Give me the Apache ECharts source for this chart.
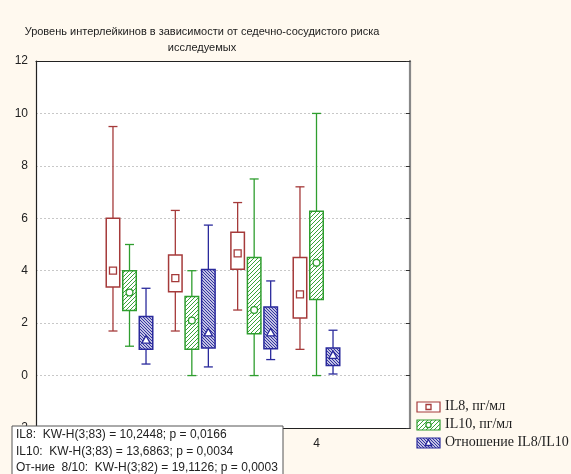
<!DOCTYPE html>
<html><head><meta charset="utf-8">
<script src="https://cdn.jsdelivr.net/npm/echarts@6/dist/echarts.min.js"></script>
<style>html,body{margin:0;padding:0;background:#fff9ef;}#c{width:571px;height:474px;}</style>
</head><body><div id="c"></div>
<script>
// ---- data ----
var titleLines = ['Уровень интерлейкинов в зависимости от седечно-сосудистого риска', 'исследуемых'];
var xCategories = ['0', '1', '2', '3', '4', '5'];
var xShownLabels = ['1', '2', '3', '4'];
var groupIndex = [1, 2, 3, 4];
// each row: [min, q1, median, q3, max]
var il8 = [[1.7, 3.38, 4.0, 6.0, 9.5], [1.7, 3.2, 3.72, 4.6, 6.3], [2.5, 4.06, 4.66, 5.47, 6.6], [1.0, 2.2, 3.1, 4.5, 7.2]];
var il10 = [[1.12, 2.48, 3.17, 4.0, 5.0], [0.0, 1.0, 2.1, 3.02, 4.0], [0.0, 1.6, 2.5, 4.5, 7.5], [0.0, 2.9, 4.3, 6.27, 10.0]];
var ratio = [[0.44, 1.0, 1.35, 2.25, 3.33], [0.33, 1.05, 1.63, 4.05, 5.74], [0.61, 1.02, 1.63, 2.62, 3.61], [0.06, 0.38, 0.77, 1.05, 1.73]];
var seriesNames = ['IL8, пг/мл', 'IL10, пг/мл', 'Отношение IL8/IL10'];
var statLines = ['IL8:  KW-H(3;83) = 10,2448; p = 0,0166', 'IL10:  KW-H(3;83) = 13,6863; p = 0,0034', 'От-ние  8/10:  KW-H(3;82) = 19,1126; p = 0,0003'];

// ---- styling ----
var colRed = '#a53a3a', colGreen = '#2f9e2f', colBlue = '#2a2a9c';
function hatch(color, size, dir, lw) {
  var c = document.createElement('canvas'); c.width = size; c.height = size;
  var g = c.getContext('2d'); g.fillStyle = '#fff'; g.fillRect(0, 0, size, size);
  g.strokeStyle = color; g.lineWidth = lw;
  g.beginPath();
  if (dir > 0) { g.moveTo(-1, size + 1); g.lineTo(size + 1, -1); g.moveTo(-1, 1); g.lineTo(1, -1); g.moveTo(size - 1, size + 1); g.lineTo(size + 1, size - 1); }
  else { g.moveTo(-1, -1); g.lineTo(size + 1, size + 1); g.moveTo(size - 1, -1); g.lineTo(size + 1, 1); g.moveTo(-1, size - 1); g.lineTo(1, size + 1); }
  g.stroke();
  return { image: c, repeat: 'repeat' };
}
var patGreen = hatch('#3aa33a', 4, 1, 1);
var patBlue = hatch('#2a2a9c', 3, -1, 1.1);

var cfg = [
  { data: il8, color: colRed, fill: '#ffffff', marker: 'square', off: -0.265 },
  { data: il10, color: colGreen, fill: patGreen, marker: 'circle', off: 0 },
  { data: ratio, color: colBlue, fill: patBlue, marker: 'triangle', off: 0.265 }
];

function markerShape(type, cx, cy, color) {
  if (type === 'square') return { type: 'rect', shape: { x: cx - 3.5, y: cy - 3.5, width: 7, height: 7 }, style: { fill: '#fff', stroke: color, lineWidth: 1.3 } };
  if (type === 'circle') return { type: 'circle', shape: { cx: cx, cy: cy, r: 3.4 }, style: { fill: '#fff', stroke: color, lineWidth: 1.3 } };
  return { type: 'polygon', shape: { points: [[cx, cy - 4.5], [cx + 4.2, cy + 3], [cx - 4.2, cy + 3]] }, style: { fill: '#fff', stroke: color, lineWidth: 1.3 } };
}

function makeSeries(k) {
  var c = cfg[k];
  return {
    type: 'custom', name: seriesNames[k],
    data: c.data.map(function (r, i) { return [groupIndex[i]].concat(r); }),
    encode: { x: 0, y: [1, 2, 3, 4, 5] },
    renderItem: function (params, api) {
      var x = api.value(0);
      var band = api.size([1, 0])[0];
      var px = api.coord([x, 0])[0] + c.off * band;
      var yMin = api.coord([x, api.value(1)])[1], yQ1 = api.coord([x, api.value(2)])[1],
          yMed = api.coord([x, api.value(3)])[1], yQ3 = api.coord([x, api.value(4)])[1],
          yMax = api.coord([x, api.value(5)])[1];
      var bw = 13.5, cw = 9;
      var ls = { stroke: c.color, lineWidth: 1.3 };
      return { type: 'group', children: [
        { type: 'line', shape: { x1: px, y1: yMax, x2: px, y2: yQ3 }, style: ls },
        { type: 'line', shape: { x1: px, y1: yQ1, x2: px, y2: yMin }, style: ls },
        { type: 'line', shape: { x1: px - cw / 2, y1: yMax, x2: px + cw / 2, y2: yMax }, style: ls },
        { type: 'line', shape: { x1: px - cw / 2, y1: yMin, x2: px + cw / 2, y2: yMin }, style: ls },
        { type: 'rect', shape: { x: px - bw / 2, y: yQ3, width: bw, height: yQ1 - yQ3 }, style: { fill: c.fill, stroke: c.color, lineWidth: 1.5 } },
        markerShape(c.marker, px, yMed, c.color)
      ] };
    }
  };
}

// legend + stats graphics
var legendItems = [];
for (var k = 0; k < 3; k++) {
  var ly = 402 + k * 18;
  legendItems.push({ type: 'rect', z: 100, shape: { x: 417, y: ly, width: 23, height: 10 }, style: { fill: cfg[k].fill, stroke: cfg[k].color, lineWidth: 1.2 } });
  var m = markerShape(cfg[k].marker, 428.5, ly + 5, cfg[k].color);
  m.z = 101;
  if (m.type === 'rect') m.shape = { x: 426, y: ly + 2.5, width: 5, height: 5 };
  if (m.type === 'circle') m.shape.r = 2.6;
  if (m.type === 'polygon') m.shape.points = [[428.5, ly + 1.5], [431.7, ly + 7.5], [425.3, ly + 7.5]];
  legendItems.push(m);
  legendItems.push({ type: 'text', z: 100, x: 445, y: ly - 3, style: { text: seriesNames[k], font: '14px "Liberation Serif"', fill: '#222' } });
}
var statItems = [{ type: 'rect', z: 100, shape: { x: 12, y: 426, width: 271, height: 60 }, style: { fill: '#fff', stroke: '#555', lineWidth: 1 } }];
for (var s = 0; s < statLines.length; s++) {
  statItems.push({ type: 'text', z: 101, x: 16, y: 429 + s * 16.5, style: { text: statLines[s], font: '12px "Liberation Sans"', fill: '#222' } });
}

var chart = echarts.init(document.getElementById('c'), null, { renderer: 'canvas' });
chart.setOption({
  backgroundColor: '#fff9ef',
  animation: false,
  title: { text: titleLines.join('\n'), left: 197, textAlign: 'center', top: 19, textStyle: { fontFamily: 'Liberation Sans', fontSize: 11, fontWeight: 'normal', color: '#222', lineHeight: 16 } },
  grid: { left: 36, top: 61, width: 374, height: 367, show: true, backgroundColor: '#fff', borderWidth: 0 },
  xAxis: [
    { type: 'category', data: xCategories, position: 'bottom', boundaryGap: true,
      axisLine: { onZero: false, lineStyle: { color: '#222', width: 1.2 } },
      axisTick: { inside: true, alignWithLabel: true, length: 4, lineStyle: { color: '#333' } },
      axisLabel: { margin: 10, fontFamily: 'Liberation Sans', fontSize: 12, color: '#222', formatter: function (v) { return xShownLabels.indexOf(v) >= 0 ? v : ''; } },
      splitLine: { show: false } },
    { type: 'category', data: xCategories, position: 'top', boundaryGap: true,
      axisLine: { onZero: false, lineStyle: { color: '#222', width: 1.2 } },
      axisTick: { inside: true, alignWithLabel: true, length: 4, lineStyle: { color: '#333' } },
      axisLabel: { show: false }, splitLine: { show: false } }
  ],
  yAxis: [
    { type: 'value', min: -2, max: 12, interval: 2, position: 'left',
      axisLine: { show: true, onZero: false, lineStyle: { color: '#222', width: 1.2 } },
      axisTick: { show: false },
      axisLabel: { margin: 8, fontFamily: 'Liberation Sans', fontSize: 12, color: '#222' },
      splitLine: { show: true, lineStyle: { color: '#c8c8c8', type: [2, 2], width: 1 } } },
    { type: 'value', min: -2, max: 12, interval: 2, position: 'right',
      axisLine: { show: true, onZero: false, lineStyle: { color: '#888', width: 2.2 } },
      axisTick: { show: true, inside: true, length: 4, lineStyle: { color: '#333' } },
      axisLabel: { show: false }, splitLine: { show: false } }
  ],
  series: [makeSeries(0), makeSeries(1), makeSeries(2)],
  graphic: legendItems.concat(statItems)
});
</script></body></html>
